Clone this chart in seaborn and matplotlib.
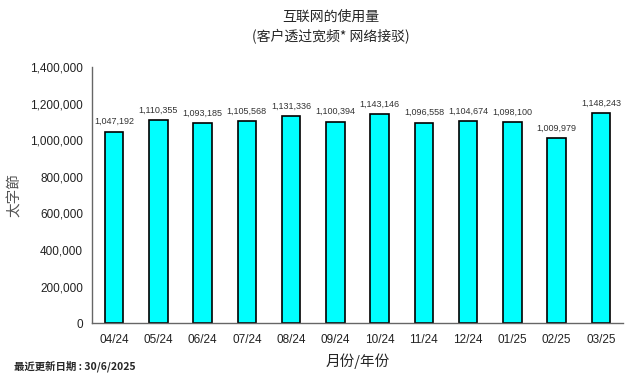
import matplotlib
matplotlib.use("Agg")

import matplotlib.pyplot as plt
import matplotlib.ticker as mticker
import numpy as np
import pandas as pd
import seaborn as sns

# ── Data ──────────────────────────────────────────────────────────────────────
months = ["04/24", "05/24", "06/24", "07/24", "08/24", "09/24",
          "10/24", "11/24", "12/24", "01/25", "02/25", "03/25"]
usage_tb = [1047192, 1110355, 1093185, 1105568, 1131336, 1100394,
            1143146, 1096558, 1104674, 1098100, 1009979, 1148243]

title_text = "互联网的使用量\n(客户透过宽频* 网络接驳)"
y_label = "太字節"
x_label = "月份/年份"
footer = "最近更新日期 : 30/6/2025"

df = pd.DataFrame({"month": months, "usage": usage_tb})

# ── Style ─────────────────────────────────────────────────────────────────────
sns.set_theme(style="white")
plt.rcParams["font.family"] = ["Noto Sans CJK SC", "DejaVu Sans"]
LATIN = ["Liberation Sans", "DejaVu Sans"]

fig = plt.figure(figsize=(6.43, 3.81), dpi=100)
ax = fig.add_axes([0.143, 0.152, 0.826, 0.672])

sns.barplot(data=df, x="month", y="usage", color="#00FFFF", width=0.42,
            edgecolor="black", linewidth=1.2, saturation=1, ax=ax)

for container in ax.containers:
    ax.bar_label(container, labels=[f"{v:,}" for v in usage_tb], padding=4,
                 fontsize=6.5, color="#333333", family=LATIN)

ax.set_ylim(0, 1400000)
ax.set_xlim(-0.5, len(months) - 0.5)
ax.yaxis.set_major_locator(mticker.MultipleLocator(200000))
ax.yaxis.set_major_formatter(mticker.FuncFormatter(lambda v, p: f"{int(v):,}"))

# ticks between categories on the x axis
ax.set_xticks(np.arange(len(months)))
ax.set_xticklabels(months, family=LATIN, fontsize=8.5, color="#222222")
ax.set_xticks(np.arange(len(months) + 1) - 0.5, minor=True)
ax.tick_params(axis="x", which="major", length=0, pad=8)
ax.tick_params(axis="x", which="minor", length=3, color="#666666", direction="out")
ax.tick_params(axis="y", length=3, color="#666666", direction="out",
               labelsize=8.5, labelcolor="#222222")
for lbl in ax.get_yticklabels():
    lbl.set_family(LATIN)

for side in ["top", "right"]:
    ax.spines[side].set_visible(False)
for side in ["left", "bottom"]:
    ax.spines[side].set_color("#666666")
    ax.spines[side].set_linewidth(1)

ax.set_xlabel(x_label, fontsize=10.5, labelpad=5)
ax.set_ylabel(y_label, fontsize=10.5, color="#555555", labelpad=6)

fig.text(0.515, 0.975, title_text, ha="center", va="top", fontsize=10,
         linespacing=1.5)
fig.text(0.022, 0.04, footer, ha="left", va="center", fontsize=7.5,
         fontweight="bold")

fig.savefig("out.png", dpi=100)
